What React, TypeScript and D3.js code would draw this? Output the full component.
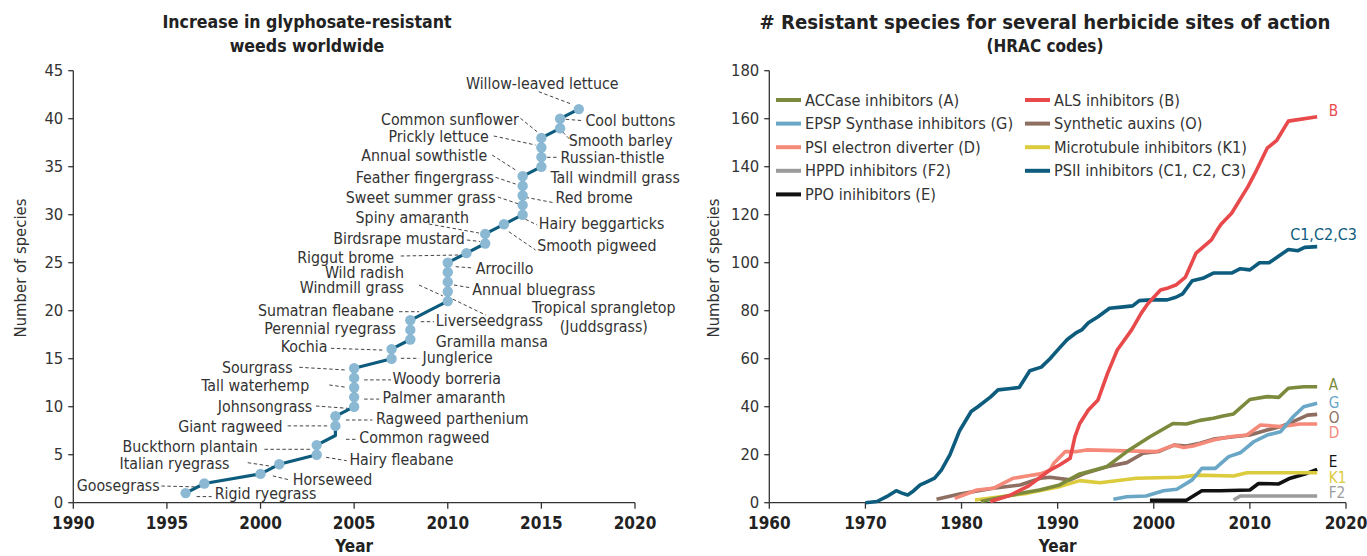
import React from "react";
import * as d3 from "d3";

// ---------- Left chart data: glyphosate-resistant weeds (cumulative count by year) ----------
const weedNames = [
  "Rigid ryegrass", "Goosegrass", "Horseweed", "Italian ryegrass", "Hairy fleabane",
  "Buckthorn plantain", "Common ragweed", "Giant ragweed", "Ragweed parthenium", "Johnsongrass",
  "Palmer amaranth", "Tall waterhemp", "Woody borreria", "Sourgrass", "Junglerice",
  "Kochia", "Gramilla mansa", "Perennial ryegrass", "Liverseedgrass", "Sumatran fleabane",
  "Tropical sprangletop|(Juddsgrass)", "Annual bluegrass", "Windmill grass", "Arrocillo", "Wild radish",
  "Riggut brome", "Birdsrape mustard", "Spiny amaranth", "Smooth pigweed", "Hairy beggarticks",
  "Sweet summer grass", "Red brome", "Feather fingergrass", "Annual sowthistle", "Tall windmill grass",
  "Russian-thistle", "Prickly lettuce", "Common sunflower", "Smooth barley", "Cool buttons",
  "Willow-leaved lettuce",
];
const weedYears = [
  1996, 1997, 2000, 2001, 2003, 2003, 2004, 2004, 2004, 2005,
  2005, 2005, 2005, 2005, 2007, 2007, 2008, 2008, 2008, 2009,
  2010, 2010, 2010, 2010, 2010, 2011, 2012, 2012, 2013, 2014,
  2014, 2014, 2014, 2014, 2015, 2015, 2015, 2015, 2016, 2016,
  2017,
];
const weedCounts = weedYears.map((_, i) => i + 1);
const weedNoDot = [7, 20]; // counts drawn without a marker in the original

const leftXTicks = [1990, 1995, 2000, 2005, 2010, 2015, 2020];
const leftYTicks = [0, 5, 10, 15, 20, 25, 30, 35, 40, 45];

// annotation layout (offsets relative to each point, px): [anchor, dx, dy, leader x1,y1,x2,y2 | null]
const weedLabelLayout: Record<number, [string, number, number, number[] | null]> = {
  1: ["start", 29, 0, [11, 3.5, 26, 3.5]],
  2: ["end", -44.7, 1.5, [-43, 2.5, -5, 3.5]],
  3: ["start", 32.3, 5, [12.3, 2, 29, 6]],
  4: ["end", -49.8, -1.6, [-31.5, -1.6, -5, 2.4]],
  5: ["start", 32.7, 4.6, [9.4, 2.6, 30, 6]],
  6: ["end", -59, 0.9, [-52.3, 4.2, -5, 4.2]],
  7: ["start", 23.9, 1.8, [10.6, 3.8, 20.6, 3.8]],
  8: ["end", -52.8, 0.1, [-47.8, 0, -6, 0]],
  9: ["start", 40.6, 2, [10.6, 3.7, 37, 3.7]],
  10: ["end", -41.9, -1.2, [-38.2, -0.7, -6.6, 1.6]],
  11: ["start", 28.4, -0.4, [10, 2, 25, 2]],
  12: ["end", -44.9, -2.5, [-24.9, -2.5, -7.6, -0.2]],
  13: ["start", 38.4, 0.4, [10, 2, 36.8, 2]],
  14: ["end", -61.6, -1, [-54.9, -1, -8.2, 1.7]],
  15: ["start", 30.9, -1.4, [9.3, -0.4, 27.6, -0.4]],
  16: ["end", -64.1, -3.1, [-60.7, -0.8, -8, 1]],
  17: ["start", 25.5, 1.2, null],
  18: ["end", -14.5, -1.6, null],
  19: ["start", 25.5, -0.3, [10.5, 1.4, 23.8, 1.4]],
  20: ["end", -35, -0.7, [-30, 1, -10, 1]],
  21: ["middle", 156, 6.2, [5, -2, 38, 14]],
  22: ["start", 24.5, -2.2, [6.2, -6.5, 24, -3.5]],
  23: ["end", -43.8, 5.4, [-28.8, 3.1, -5, 14]],
  24: ["start", 27.9, -4, [7.9, -5.6, 26, -4.3]],
  25: ["end", -43.8, 9.3, null],
  26: ["end", -72.5, 3.9, [-65.8, 2.9, -7.5, 1.9]],
  27: ["end", -20.3, -5.2, [-18.3, -3.5, -5.3, -2]],
  28: ["end", -16.3, -17.2, [-56.3, -9.9, -6.3, -0.9]],
  29: ["start", 33.2, 20.7, [4.9, 7.4, 31.6, 25.7]],
  30: ["start", 16.2, 8.6, [2.9, 4.6, 14.5, 10.3]],
  31: ["end", -27.1, -8.4, [-24.8, -8.1, -3.8, -1.1]],
  32: ["start", 32.9, 1.8, [2.9, 1.8, 31.2, 7.2]],
  33: ["end", -28.8, -8.6, [-27.1, -8.6, -7.1, -1.9]],
  34: ["end", -35.5, -21.3, [-30.5, -21.3, -7.1, -6.3]],
  35: ["start", 9.1, 10.6, null],
  36: ["start", 19.1, 0.2, [5.7, 0.2, 17.4, 0.2]],
  37: ["end", -52.6, -11.5, [-47.6, -11.5, -5.9, -2.5]],
  38: ["end", -22.6, -18.6, [-20.9, -19.6, -4.3, -6.2]],
  39: ["start", 8.6, 11.7, [2.6, 3.7, 10.3, 11.7]],
  40: ["start", 25.3, 1.3, [5.6, 0.6, 23.6, 2]],
  41: ["middle", -36.6, -26.4, [-40.1, -17.4, -6.8, -4.8]],
};

// ---------- Right chart data: resistant species by site of action ----------
const seriesA: [number, number][] = [[1982, 0.5], [1984, 2.2], [1986, 3.8], [1988.1, 5.3], [1990.2, 7.4], [1992.3, 12], [1995.1, 15], [1997.2, 21.3], [1999.6, 27.5], [2002, 33], [2003.4, 32.8], [2004.8, 34.3], [2006.2, 35.2], [2007.2, 36.1], [2008.3, 37], [2010, 43], [2011.8, 44.2], [2013, 43.9], [2014, 47.7], [2015.6, 48.3], [2017, 48.3]];
const seriesB: [number, number][] = [[1983, 0.5], [1985, 3], [1987, 7], [1989.2, 13.6], [1990.2, 15.7], [1991.3, 18.5], [1991.8, 27.5], [1992.3, 33], [1993.2, 38.6], [1994.2, 42.8], [1995.2, 54], [1996.2, 63.6], [1997.7, 72], [1998.7, 79], [1999.4, 83], [2000.7, 88.6], [2001.5, 89.5], [2002.3, 90.7], [2003.3, 94], [2004.4, 104], [2006, 109.5], [2006.6, 113.6], [2007, 116], [2008.1, 120.6], [2009.8, 131.7], [2010.7, 138.6], [2011.8, 147.7], [2012.8, 151], [2014, 159], [2017, 160.8]];
const seriesG: [number, number][] = [[1995.8, 1.4], [1997.2, 2.5], [1999.2, 2.8], [2001, 5], [2002.4, 5.6], [2004, 9.5], [2005, 14.3], [2006.4, 14.3], [2007.8, 19.2], [2009, 20.8], [2010.4, 25.4], [2011.8, 28.2], [2013.2, 29.6], [2014.5, 35.8], [2015.6, 40], [2017, 41.4]];
const seriesO: [number, number][] = [[1977.4, 1.4], [1979.8, 3.6], [1983.3, 6], [1986.1, 7.4], [1988.2, 10.2], [1989.2, 10.6], [1991.3, 9.5], [1992.7, 12], [1995.1, 15], [1997.2, 16.7], [1998.9, 20.6], [2000.5, 21.3], [2002.1, 24], [2003.4, 23.6], [2004.8, 24.8], [2006.2, 26.5], [2008.3, 27.5], [2010, 28.2], [2011.8, 30.3], [2013.2, 31.7], [2014.5, 33.8], [2016, 36.5], [2017, 36.8]];
const seriesD: [number, number][] = [[1979.3, 1.8], [1981.6, 5.3], [1983.3, 6], [1985.4, 10.2], [1986.8, 11.1], [1988.2, 12], [1989.2, 13.6], [1989.6, 16.4], [1990.8, 21.3], [1992, 21.3], [1993, 22], [2000.3, 21.3], [2002.1, 24], [2003.1, 23], [2004.1, 23.6], [2006.2, 26.1], [2007.9, 27.5], [2009.7, 28.2], [2011.1, 32.4], [2013.2, 31.7], [2015.2, 32.8], [2017, 32.8]];
const seriesK1: [number, number][] = [[1981.4, 1.1], [1986.8, 3.9], [1990.3, 6.8], [1992.3, 9.2], [1994.4, 8.3], [1998.2, 10.2], [2002.7, 10.6], [2004.5, 11.5], [2008.3, 11.1], [2009.7, 12.5], [2017, 12.5]];
const seriesF2: [number, number][] = [[2008.3, 1.1], [2009, 2.8], [2017, 2.8]];
const seriesC: [number, number][] = [[1970, 0], [1971.2, 0.5], [1972.2, 2.5], [1973.2, 5], [1973.8, 4], [1974.4, 3.2], [1975, 4.9], [1975.7, 7.4], [1976.4, 8.7], [1977.2, 10.2], [1977.9, 13.6], [1978.8, 20], [1979.8, 30], [1981, 38], [1981.7, 40], [1983, 44], [1983.8, 47], [1984.9, 47.5], [1986, 48], [1987.1, 55], [1988.3, 56.5], [1989.2, 60], [1990.2, 64.5], [1991, 68], [1992, 71], [1992.5, 72], [1993.2, 75], [1994.2, 77.5], [1995.4, 81], [1996.6, 81.5], [1997.8, 82], [1998.5, 84.2], [1999.7, 84.5], [2001.4, 84.5], [2002.3, 85.6], [2003, 87], [2004, 92.5], [2005.1, 93.5], [2006.2, 95.7], [2008.1, 95.7], [2009, 97.5], [2010, 97], [2011, 100], [2012, 100], [2014, 105.5], [2015, 105], [2015.7, 106.4], [2017, 106.7]];
const seriesE: [number, number][] = [[1999.6, 1], [2003.4, 1], [2005, 5], [2006.9, 5], [2010, 5.3], [2010.9, 8], [2013, 7.8], [2014.2, 10.2], [2015.9, 12.2], [2017, 13.9]];

const siteNames = ["ACCase inhibitors (A)", "EPSP Synthase inhibitors (G)", "PSI electron diverter (D)", "HPPD inhibitors (F2)", "PPO inihibitors (E)", "ALS inhibitors (B)", "Synthetic auxins (O)", "Microtubule inhibitors (K1)", "PSII inhibitors (C1, C2, C3)"];
const siteCodes = ["A", "G", "D", "F2", "E", "B", "O", "K1", "C1,C2,C3"];
const siteSeries = [seriesA, seriesG, seriesD, seriesF2, seriesE, seriesB, seriesO, seriesK1, seriesC];
const siteColors = ["#7b8a3c", "#6aa7c6", "#f5897a", "#9b9b9b", "#111111", "#e8494b", "#8d6e60", "#dccb3c", "#0d5c7d"];
const drawOrder = [3, 4, 7, 6, 2, 0, 1, 8, 5];

const rightXTicks = [1960, 1970, 1980, 1990, 2000, 2010, 2020];
const rightYTicks = [0, 20, 40, 60, 80, 100, 120, 140, 160, 180];

const FONT = "'DejaVu Sans Condensed', 'Liberation Sans Narrow', Roboto, sans-serif";
const TXT = "#333";

export default function App() {
  const W = 1367, H = 556;
  const yTop = 70.7, yBot = 502.7;

  // left scales
  const xL = d3.scaleLinear().domain([1990, 2020]).range([73.3, 635]);
  const yL = d3.scaleLinear().domain([0, 45]).range([yBot, yTop]);
  // right scales
  const xR = d3.scaleLinear().domain([1960, 2020]).range([769.3, 1346]);
  const yR = d3.scaleLinear().domain([0, 180]).range([yBot, yTop]);

  const weedLine = d3.line<number>().x((i) => xL(weedYears[i])).y((i) => yL(weedCounts[i]));
  const siteLine = d3.line<[number, number]>().x((d) => xR(d[0])).y((d) => yR(d[1]));

  // vertical nudges for the end labels (avoid overlaps, as in the original)
  const endLabelNudge: Record<string, number> = { A: -2, G: 0, O: 4, D: 9.4, E: -7.6, K1: 5.6, F2: -2.7, B: -6, "C1,C2,C3": -12 };

  const LAB = 15.8;

  return (
    <svg width={W} height={H} style={{ position: "absolute", left: 0, top: 0, background: "#fff" }} fontFamily={FONT}>
      {/* ---------------- LEFT CHART ---------------- */}
      <text x={307} y={22} textAnchor="middle" dominantBaseline="central" fontWeight="bold" fontSize={17.6} fill="#222">Increase in glyphosate-resistant</text>
      <text x={307} y={46} textAnchor="middle" dominantBaseline="central" fontWeight="bold" fontSize={17.6} fill="#222">weeds worldwide</text>

      {/* axes */}
      <line x1={xL(1990)} x2={xL(1990)} y1={yTop} y2={yBot} stroke="#333" strokeWidth={1.3} />
      <line x1={xL(1990)} x2={xL(2020)} y1={yBot} y2={yBot} stroke="#333" strokeWidth={1.3} />
      {leftYTicks.map((t) => (
        <g key={"ly" + t}>
          <line x1={xL(1990) - 5} x2={xL(1990)} y1={yL(t)} y2={yL(t)} stroke="#333" strokeWidth={1.3} />
          <text x={xL(1990) - 10} y={yL(t)} textAnchor="end" dominantBaseline="central" fontSize={16.5} fill={TXT}>{t}</text>
        </g>
      ))}
      {leftXTicks.map((t) => (
        <g key={"lx" + t}>
          <line x1={xL(t)} x2={xL(t)} y1={yBot} y2={yBot + 6} stroke="#333" strokeWidth={1.3} />
          <text x={xL(t)} y={yBot + 20} textAnchor="middle" dominantBaseline="central" fontSize={17} fontWeight="bold" fill="#222">{t}</text>
        </g>
      ))}
      <text x={(xL(1990) + xL(2020)) / 2} y={546} textAnchor="middle" dominantBaseline="central" fontSize={17} fontWeight="bold" fill="#222">Year</text>
      <text transform={`translate(20,268) rotate(-90)`} textAnchor="middle" dominantBaseline="central" fontSize={16.5} fill={TXT}>Number of species</text>

      {/* leaders */}
      {weedCounts.map((c, i) => {
        const lay = weedLabelLayout[c];
        if (!lay || !lay[3]) return null;
        const px = xL(weedYears[i]), py = yL(c);
        const l = lay[3];
        return <line key={"ld" + c} x1={px + l[0]} y1={py + l[1]} x2={px + l[2]} y2={py + l[3]} stroke="#444" strokeWidth={1} strokeDasharray="3.5,2.5" />;
      })}

      {/* line and dots */}
      <path d={weedLine(d3.range(weedYears.length)) || ""} fill="none" stroke="#0d5c7d" strokeWidth={3.2} strokeLinejoin="round" />
      {weedCounts.map((c, i) =>
        weedNoDot.includes(c) ? null : (
          <circle key={"pt" + c} cx={xL(weedYears[i])} cy={yL(c)} r={5.2} fill="#8bb9d4" />
        )
      )}

      {/* labels */}
      {weedCounts.map((c, i) => {
        const lay = weedLabelLayout[c];
        const px = xL(weedYears[i]), py = yL(c);
        const lines = weedNames[i].split("|");
        return (
          <text key={"lb" + c} x={px + lay[1]} y={py + lay[2]} textAnchor={lay[0]} dominantBaseline="central" fontSize={LAB} fill={TXT}>
            {lines.map((s, k) => (
              <tspan key={k} x={px + lay[1]} dy={k === 0 ? 0 : 18.7}>{s}</tspan>
            ))}
          </text>
        );
      })}

      {/* ---------------- RIGHT CHART ---------------- */}
      <text x={1045} y={22} textAnchor="middle" dominantBaseline="central" fontWeight="bold" fontSize={20.2} fill="#222"># Resistant species for several herbicide sites of action</text>
      <text x={1045} y={46} textAnchor="middle" dominantBaseline="central" fontWeight="bold" fontSize={17} fill="#222">(HRAC codes)</text>

      <line x1={xR(1960)} x2={xR(1960)} y1={yTop} y2={yBot} stroke="#333" strokeWidth={1.3} />
      <line x1={xR(1960)} x2={xR(2020)} y1={yBot} y2={yBot} stroke="#333" strokeWidth={1.3} />
      {rightYTicks.map((t) => (
        <g key={"ry" + t}>
          <line x1={xR(1960) - 5} x2={xR(1960)} y1={yR(t)} y2={yR(t)} stroke="#333" strokeWidth={1.3} />
          <text x={xR(1960) - 10} y={yR(t)} textAnchor="end" dominantBaseline="central" fontSize={16.5} fill={TXT}>{t}</text>
        </g>
      ))}
      {rightXTicks.map((t) => (
        <g key={"rx" + t}>
          <line x1={xR(t)} x2={xR(t)} y1={yBot} y2={yBot + 6} stroke="#333" strokeWidth={1.3} />
          <text x={xR(t)} y={yBot + 20} textAnchor="middle" dominantBaseline="central" fontSize={17} fontWeight="bold" fill="#222">{t}</text>
        </g>
      ))}
      <text x={(xR(1960) + xR(2020)) / 2} y={546} textAnchor="middle" dominantBaseline="central" fontSize={17} fontWeight="bold" fill="#222">Year</text>
      <text transform={`translate(713,268) rotate(-90)`} textAnchor="middle" dominantBaseline="central" fontSize={16.5} fill={TXT}>Number of species</text>

      {drawOrder.map((k) => (
        <path key={"s" + k} d={siteLine(siteSeries[k]) || ""} fill="none" stroke={siteColors[k]} strokeWidth={3.6} strokeLinejoin="round" />
      ))}

      {/* end labels */}
      {siteCodes.map((code, k) => {
        const s = siteSeries[k];
        const last = s[s.length - 1];
        const isC = code === "C1,C2,C3";
        return (
          <text key={"el" + code} x={isC ? xR(last[0]) - 27 : xR(last[0]) + 11.6} y={yR(last[1]) + endLabelNudge[code]} dominantBaseline="central" fontSize={isC ? 16 : 15.2} fill={siteColors[k]}>{code}</text>
        );
      })}

      {/* legend */}
      {siteNames.map((name, k) => {
        const col = k < 5 ? 0 : 1;
        const row = col === 0 ? k : k - 5;
        const x0 = col === 0 ? 776 : 1025;
        const yy = 100 + row * 23.6;
        return (
          <g key={"lg" + k}>
            <line x1={x0} x2={x0 + 25} y1={yy} y2={yy} stroke={siteColors[k]} strokeWidth={4} />
            <text x={x0 + 29} y={yy} dominantBaseline="central" fontSize={16.2} fill={TXT}>{name}</text>
          </g>
        );
      })}
    </svg>
  );
}
